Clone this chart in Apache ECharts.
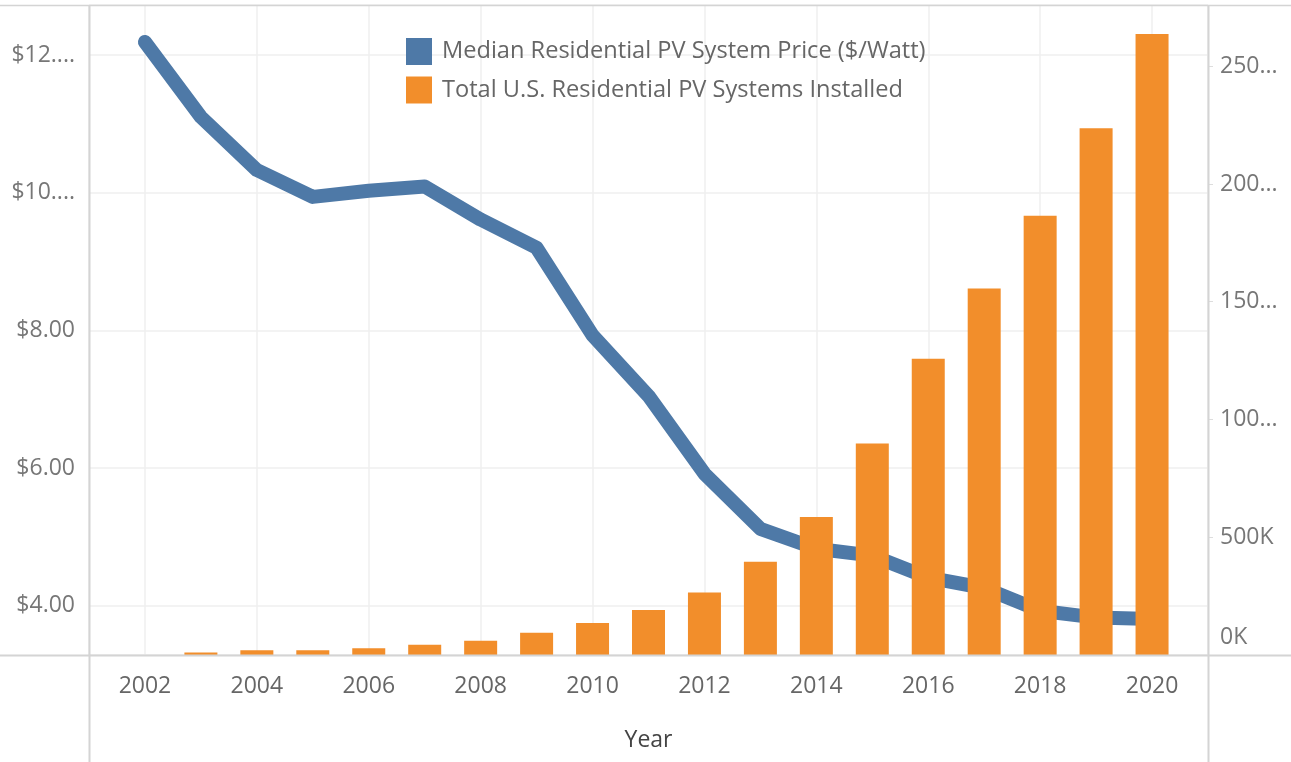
<!DOCTYPE html>
<html>
<head>
<meta charset="utf-8">
<script src="https://cdn.jsdelivr.net/npm/echarts@6/dist/echarts.min.js"></script>
<style>
  html, body { margin: 0; padding: 0; background: #ffffff; }
  #chart { width: 1291px; height: 762px; }
</style>
</head>
<body>
<div id="chart"></div>
<script>
const years = [2002, 2003, 2004, 2005, 2006, 2007, 2008, 2009, 2010, 2011,
               2012, 2013, 2014, 2015, 2016, 2017, 2018, 2019, 2020];
const priceName = 'Median Residential PV System Price ($/Watt)';
const installedName = 'Total U.S. Residential PV Systems Installed';
const priceValues = [12.19, 11.10, 10.33, 9.94, 10.03, 10.09, 9.61, 9.20, 7.93, 7.05,
                     5.92, 5.12, 4.83, 4.73, 4.41, 4.26, 3.93, 3.83, 3.81];
const installedValues = [null, 11000, 20000, 20000, 29000, 44000, 61000, 94000, 136000, 191000,
                         265000, 396000, 586000, 898000, 1258000, 1556000, 1865000, 2237000, 2637000];

const FONT = 'Open Sans';
const LABEL_COLOR = '#777777';
const FRAME = '#d4d4d4';
const GRID = '#efefef';
const AXIS_FS = 23;

const chart = echarts.init(document.getElementById('chart'), null, { renderer: 'canvas' });

const priceData = years.map((y, i) => [y, priceValues[i]]);
const installedData = years.map((y, i) => [y, installedValues[i]]);

chart.setOption({
  animation: false,
  backgroundColor: '#ffffff',
  textStyle: { fontFamily: FONT },
  grid: { left: 89, right: 83, top: 5, bottom: 107, containLabel: false },
  legend: {
    orient: 'vertical',
    left: 401,
    top: 33,
    itemWidth: 26,
    itemHeight: 27,
    itemGap: 11.5,
    selectedMode: false,
    itemStyle: { borderWidth: 0 },
    textStyle: { fontFamily: FONT, fontSize: 23.6, lineHeight: 27, color: '#666666', padding: [0, 0, 0, 5] },
    data: [
      { name: priceName, icon: 'rect' },
      { name: installedName, icon: 'rect' }
    ]
  },
  xAxis: {
    type: 'value',
    min: 2001,
    max: 2021,
    splitNumber: 10,
    name: 'Year',
    nameLocation: 'middle',
    nameGap: 74,
    nameTextStyle: { fontFamily: FONT, fontSize: AXIS_FS, color: '#444444' },
    axisLine: { show: false },
    axisTick: { show: false },
    axisLabel: {
      showMinLabel: false,
      showMaxLabel: false,
      margin: 20,
      fontFamily: FONT,
      fontSize: AXIS_FS,
      color: '#666666',
      formatter: v => String(v)
    },
    splitLine: { show: true, lineStyle: { color: GRID, width: 1.5 } }
  },
  yAxis: [
    {
      type: 'value',
      position: 'left',
      min: 3.287,
      max: 12.727,
      splitNumber: 5,
      axisLine: { show: false },
      axisTick: { show: false },
      axisLabel: {
        showMinLabel: false,
        showMaxLabel: false,
        margin: 14,
        fontFamily: FONT,
        fontSize: AXIS_FS,
        color: LABEL_COLOR,
        formatter: v => v >= 10 ? '$' + Math.floor(v) + '....' : '$' + v.toFixed(2)
      },
      splitLine: { show: true, lineStyle: { color: GRID, width: 1.5 } }
    },
    {
      type: 'value',
      position: 'right',
      min: 0,
      max: 2760000,
      splitNumber: 5,
      axisLine: { show: false },
      axisTick: { show: true, length: 5, lineStyle: { color: '#dddddd' } },
      axisLabel: {
        showMinLabel: true,
        showMaxLabel: false,
        margin: 12,
        fontFamily: FONT,
        fontSize: AXIS_FS,
        color: LABEL_COLOR,
        formatter: v => {
          let s = Math.round(v / 1000) + 'K';
          if (s.length > 4) s = s.slice(0, 3) + '...';
          return v === 0 ? '{lo|' + s + '}' : s;
        },
        rich: {
          lo: { fontFamily: FONT, fontSize: AXIS_FS, color: LABEL_COLOR, padding: [0, 0, 36, 0] }
        }
      },
      splitLine: { show: false }
    }
  ],
  graphic: [
    { type: 'line', silent: true, z: 100, shape: { x1: 0, y1: 5.5, x2: 1291, y2: 5.5 }, style: { stroke: FRAME, lineWidth: 1.5 } },
    { type: 'line', silent: true, z: 100, shape: { x1: 0, y1: 655.5, x2: 1291, y2: 655.5 }, style: { stroke: FRAME, lineWidth: 2 } },
    { type: 'line', silent: true, z: 100, shape: { x1: 89.5, y1: 5, x2: 89.5, y2: 762 }, style: { stroke: FRAME, lineWidth: 2 } },
    { type: 'line', silent: true, z: 100, shape: { x1: 1208.5, y1: 5, x2: 1208.5, y2: 762 }, style: { stroke: FRAME, lineWidth: 2 } }
  ],
  series: [
    {
      name: priceName,
      type: 'line',
      yAxisIndex: 0,
      z: 2,
      data: priceData,
      showSymbol: false,
      symbol: 'none',
      color: '#4e79a7',
      itemStyle: { color: '#4e79a7' },
      lineStyle: { color: '#4e79a7', width: 14, cap: 'round', join: 'round' }
    },
    {
      name: installedName,
      type: 'bar',
      yAxisIndex: 1,
      z: 3,
      data: installedData,
      barWidth: 33,
      color: '#f28e2b',
      itemStyle: { color: '#f28e2b' }
    }
  ]
});
</script>
</body>
</html>
